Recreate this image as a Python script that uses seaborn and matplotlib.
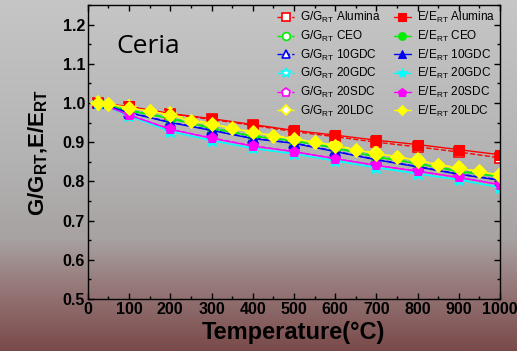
import numpy as np
import pandas as pd
import matplotlib
matplotlib.use("Agg")
import matplotlib.pyplot as plt
import matplotlib.colors as mcolors
import seaborn as sns

# temperatures (C)
temp100 = [25, 100, 200, 300, 400, 500, 600, 700, 800, 900, 1000]
temp50 = [25, 50, 100, 150, 200, 250, 300, 350, 400, 450, 500, 550, 600,
          650, 700, 750, 800, 850, 900, 950, 1000]

# G/G_RT (dashed, open markers)
g_alumina = [1.0, 0.990, 0.972, 0.958, 0.943, 0.927, 0.914, 0.900, 0.888, 0.875, 0.860]
g_ceo = [1.0, 0.982, 0.962, 0.937, 0.916, 0.904, 0.886, 0.864, 0.846, 0.827, 0.813]
g_10gdc = [1.0, 0.976, 0.951, 0.931, 0.910, 0.898, 0.877, 0.856, 0.838, 0.819, 0.804]
g_20gdc = [1.0, 0.968, 0.928, 0.905, 0.885, 0.871, 0.853, 0.836, 0.820, 0.805, 0.785]
g_20sdc = [1.0, 0.970, 0.933, 0.911, 0.891, 0.876, 0.858, 0.841, 0.826, 0.810, 0.792]
g_20ldc = [1.0, 0.989, 0.971, 0.947, 0.926, 0.909, 0.892, 0.872, 0.854, 0.834, 0.816]

# E/E_RT (solid, filled markers)
e_alumina = [1.0, 0.991, 0.973, 0.960, 0.945, 0.930, 0.918, 0.905, 0.894, 0.881, 0.868]
e_ceo = [1.0, 0.980, 0.960, 0.935, 0.915, 0.903, 0.885, 0.862, 0.845, 0.825, 0.812]
e_10gdc = [1.0, 0.975, 0.950, 0.930, 0.909, 0.897, 0.876, 0.855, 0.837, 0.818, 0.803]
e_20gdc = [1.0, 0.967, 0.927, 0.904, 0.884, 0.870, 0.852, 0.835, 0.819, 0.804, 0.784]
e_20sdc = [1.0, 0.969, 0.933, 0.910, 0.890, 0.876, 0.858, 0.841, 0.826, 0.810, 0.792]
e_20ldc = [1.0, 0.997, 0.988, 0.979, 0.970, 0.953, 0.946, 0.935, 0.925, 0.916,
           0.908, 0.900, 0.891, 0.880, 0.871, 0.863, 0.853, 0.842, 0.833, 0.826, 0.815]

names = ["Alumina", "CEO", "10GDC", "20GDC", "20SDC", "20LDC"]
colors = ["red", "#00ee00", "blue", "cyan", "magenta", "yellow"]
markers = ["s", "o", "^", "*", "p", "D"]
msizes = [7, 7, 7.5, 9.5, 8, 7]
g_data = [g_alumina, g_ceo, g_10gdc, g_20gdc, g_20sdc, g_20ldc]
e_data = [e_alumina, e_ceo, e_10gdc, e_20gdc, e_20sdc, e_20ldc]

sns.set_style("ticks")
plt.rcParams["font.family"] = ["Liberation Sans", "DejaVu Sans"]
plt.rcParams["mathtext.default"] = "regular"
plt.rcParams["text.color"] = "black"
plt.rcParams["axes.labelcolor"] = "black"

fig = plt.figure(figsize=(5.17, 3.51), dpi=100)

# slide-like gradient background
bg = fig.add_axes([0, 0, 1, 1], zorder=-10)
cmap = mcolors.LinearSegmentedColormap.from_list(
    "bg", [(0.0, "#c6c6c6"), (0.45, "#b3b3b3"), (0.68, "#a8a2a2"),
           (0.82, "#967878"), (1.0, "#7a4a4a")])
bg.imshow(np.linspace(0, 1, 256)[:, None], aspect="auto", cmap=cmap,
          extent=[0, 1, 0, 1], origin="upper")
bg.axis("off")

ax = fig.add_axes([0.170, 0.148, 0.797, 0.838])
ax.patch.set_alpha(0)

for i in range(6):
    df_g = pd.DataFrame({"T": temp100, "v": g_data[i]})
    sns.lineplot(data=df_g, x="T", y="v", ax=ax, color=colors[i], linestyle="--",
                 linewidth=1, marker=markers[i], markersize=msizes[i],
                 markerfacecolor="white", markeredgecolor=colors[i],
                 markeredgewidth=1.2, label="G/G$_{RT}$ " + names[i])
for i in range(6):
    tt = temp50 if names[i] == "20LDC" else temp100
    df_e = pd.DataFrame({"T": tt, "v": e_data[i]})
    sns.lineplot(data=df_e, x="T", y="v", ax=ax, color=colors[i], linestyle="-",
                 linewidth=1, marker=markers[i], markersize=msizes[i],
                 markerfacecolor=colors[i], markeredgecolor=colors[i],
                 label="E/E$_{RT}$ " + names[i])

ax.set_xlim(0, 1000)
ax.set_ylim(0.5, 1.25)
ax.set_xticks(np.arange(0, 1001, 100))
ax.set_xticks(np.arange(0, 1001, 50), minor=True)
ax.set_yticks(np.arange(0.5, 1.21, 0.1))
ax.set_yticks(np.arange(0.5, 1.26, 0.05), minor=True)
ax.set_yticklabels(["%.1f" % v for v in np.arange(0.5, 1.21, 0.1)])
ax.tick_params(which="both", direction="in", top=True, right=True, width=1,
               labelsize=11.5, pad=2, colors="black")
ax.tick_params(which="major", length=4)
ax.tick_params(which="minor", length=2)
for lab in ax.get_xticklabels() + ax.get_yticklabels():
    lab.set_fontweight("bold")
for s in ax.spines.values():
    s.set_linewidth(1)
    s.set_color("black")

ax.set_xlabel("Temperature(°C)", fontsize=17, fontweight="bold", labelpad=3)
ax.set_ylabel("G/G$_{RT}$,E/E$_{RT}$", fontsize=16, fontweight="bold", labelpad=9)

leg = ax.legend(loc="upper right", ncol=2, frameon=False, fontsize=8.5,
                handlelength=1.5, handletextpad=0.45, columnspacing=1.1,
                labelspacing=0.3, borderaxespad=0.05, markerscale=0.8)
for t in leg.get_texts():
    t.set_color("black")

ax.text(0.07, 0.835, "Ceria", transform=ax.transAxes, fontsize=19,
        family="Open Sans", color="black")

fig.savefig("out.png", dpi=100)
